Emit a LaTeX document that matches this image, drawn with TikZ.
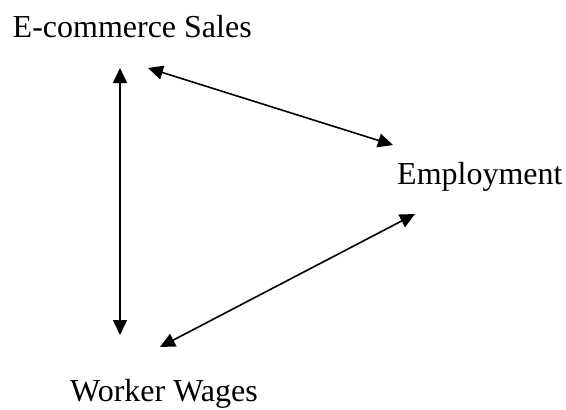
\documentclass[tikz,border=0pt]{standalone}
\usepackage{fontspec}
\setmainfont{Liberation Serif}
\usetikzlibrary{arrows.meta}

\tikzset{
  lbl/.style={inner sep=0pt,font=\fontsize{32}{38}\selectfont},
  dbl/.style={line width=1.6pt,{Triangle[length=15pt,width=14pt]}-{Triangle[length=15pt,width=14pt]}}
}

\begin{document}
\begin{tikzpicture}[x=1pt,y=-1pt]
\useasboundingbox[fill=white] (0,0) rectangle (566,410);
% the three labels
\node[lbl,anchor=base west] (sales) at (12.5,37) {E-commerce Sales};
\node[lbl,anchor=base west] (jobs) at (397,184) {Employment};
\node[lbl,anchor=base east] (wages) at (258,401) {Worker Wages};
% arrow ends
\coordinate (sTop) at (120,68);
\coordinate (sBot) at (120,335);
\coordinate (sRight) at (148,68);
\coordinate (jLeft) at (393,145);
\coordinate (jLow) at (415,214);
\coordinate (wUp) at (160,347);
% two-way links
\draw[dbl] (sTop) -- (sBot);
\draw[dbl] (sRight) -- (jLeft);
\draw[dbl] (jLow) -- (wUp);
\end{tikzpicture}
\end{document}
